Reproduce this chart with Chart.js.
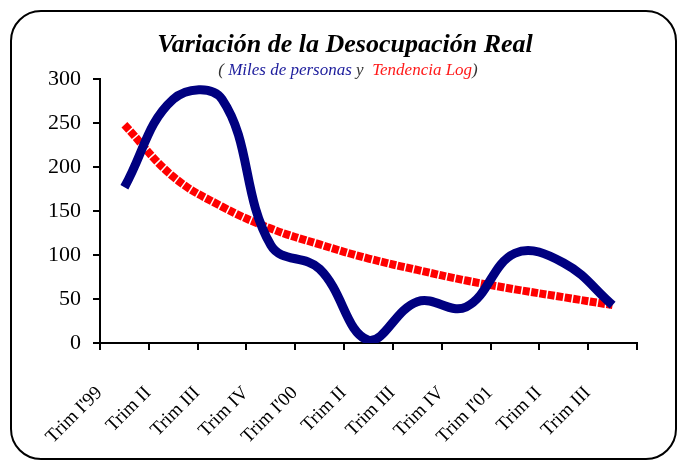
<!DOCTYPE html>
<html>
<head>
<meta charset="utf-8">
<script src="https://cdn.jsdelivr.net/npm/chart.js@4"></script>
<style>
  body { margin: 0; background: #fff; }
  canvas { display: block; }
</style>
</head>
<body>
<canvas id="graficoDesocupacion" width="678" height="461"></canvas>
<script>
// Datos
const categorias = ["Trim I'99", 'Trim II', 'Trim III', 'Trim IV', "Trim I'00", 'Trim II', 'Trim III', 'Trim IV', "Trim I'01", 'Trim II', 'Trim III'];
const desocupacion = [177, 277, 277, 111, 84, 3, 47, 41, 102, 91, 43];
const tendenciaLog = [248, 189, 155, 130, 112, 96, 83, 71, 61, 52, 43];
const ejeY = { min: 0, max: 300, paso: 50 };

const titulo = 'Variación de la Desocupación Real';
const subtitulo = [
    ['( ', '#333'],
    ['Miles de personas', '#1c1c9c'],
    [' y  ', '#333'],
    ['Tendencia Log', '#ff1a1a'],
    [')', '#333']
];

// Marco redondeado + titulos
const marcoYTitulos = {
    id: 'marcoYTitulos',
    afterDraw(chart) {
        const ctx = chart.ctx;
        ctx.save();
        ctx.strokeStyle = '#000';
        ctx.lineWidth = 2;
        ctx.beginPath();
        ctx.roundRect(11, 11, 665, 448, 30);
        ctx.stroke();

        ctx.fillStyle = '#000';
        ctx.textAlign = 'center';
        ctx.textBaseline = 'alphabetic';
        ctx.font = 'italic bold 26px "Liberation Serif"';
        ctx.fillText(titulo, 345, 52);

        ctx.font = 'italic 17px "Liberation Serif"';
        ctx.textAlign = 'left';
        let total = 0;
        subtitulo.forEach(([t]) => total += ctx.measureText(t).width);
        let x = 348 - total / 2;
        subtitulo.forEach(([t, c]) => {
            ctx.fillStyle = c;
            ctx.fillText(t, x, 75);
            x += ctx.measureText(t).width;
        });
        ctx.restore();
    }
};

const ctx = document.getElementById('graficoDesocupacion').getContext('2d');
const grafico = new Chart(ctx, {
    type: 'line',
    data: {
        labels: categorias,
        datasets: [{
            label: 'Miles de personas',
            data: desocupacion,
            borderColor: '#000080',
            borderWidth: 9,
            pointRadius: 0,
            tension: 0.4,
            fill: false
        }, {
            label: 'Tendencia Log',
            data: tendenciaLog,
            borderColor: '#ff0000',
            borderWidth: 8,
            borderDash: [7, 1.5],
            borderCapStyle: 'butt',
            pointRadius: 0,
            tension: 0.4,
            fill: false
        }]
    },
    options: {
        responsive: false,
        animation: false,
        layout: { padding: { left: 10, right: 41, top: 79, bottom: 0 } },
        plugins: {
            legend: { display: false },
            title: { display: false },
            tooltip: { enabled: false }
        },
        scales: {
            x: {
                offset: true,
                grid: { offset: true, drawOnChartArea: false, tickLength: 7, color: '#000', lineWidth: 2 },
                border: { color: '#000', width: 2 },
                ticks: {
                    color: '#000',
                    font: { family: 'Liberation Serif', size: 19 },
                    minRotation: 45,
                    maxRotation: 45,
                    autoSkip: false,
                    padding: 32,
                    labelOffset: -25
                },
                afterFit: (scale) => { scale.height = 118; }
            },
            y: {
                min: ejeY.min,
                max: ejeY.max,
                grid: { drawOnChartArea: false, tickLength: 7, color: '#000', lineWidth: 2 },
                border: { color: '#000', width: 2 },
                ticks: {
                    stepSize: ejeY.paso,
                    color: '#000',
                    font: { family: 'Liberation Serif', size: 22 },
                    padding: 12
                },
                afterFit: (scale) => { scale.width = 90; }
            }
        }
    },
    plugins: [marcoYTitulos]
});
</script>
</body>
</html>
